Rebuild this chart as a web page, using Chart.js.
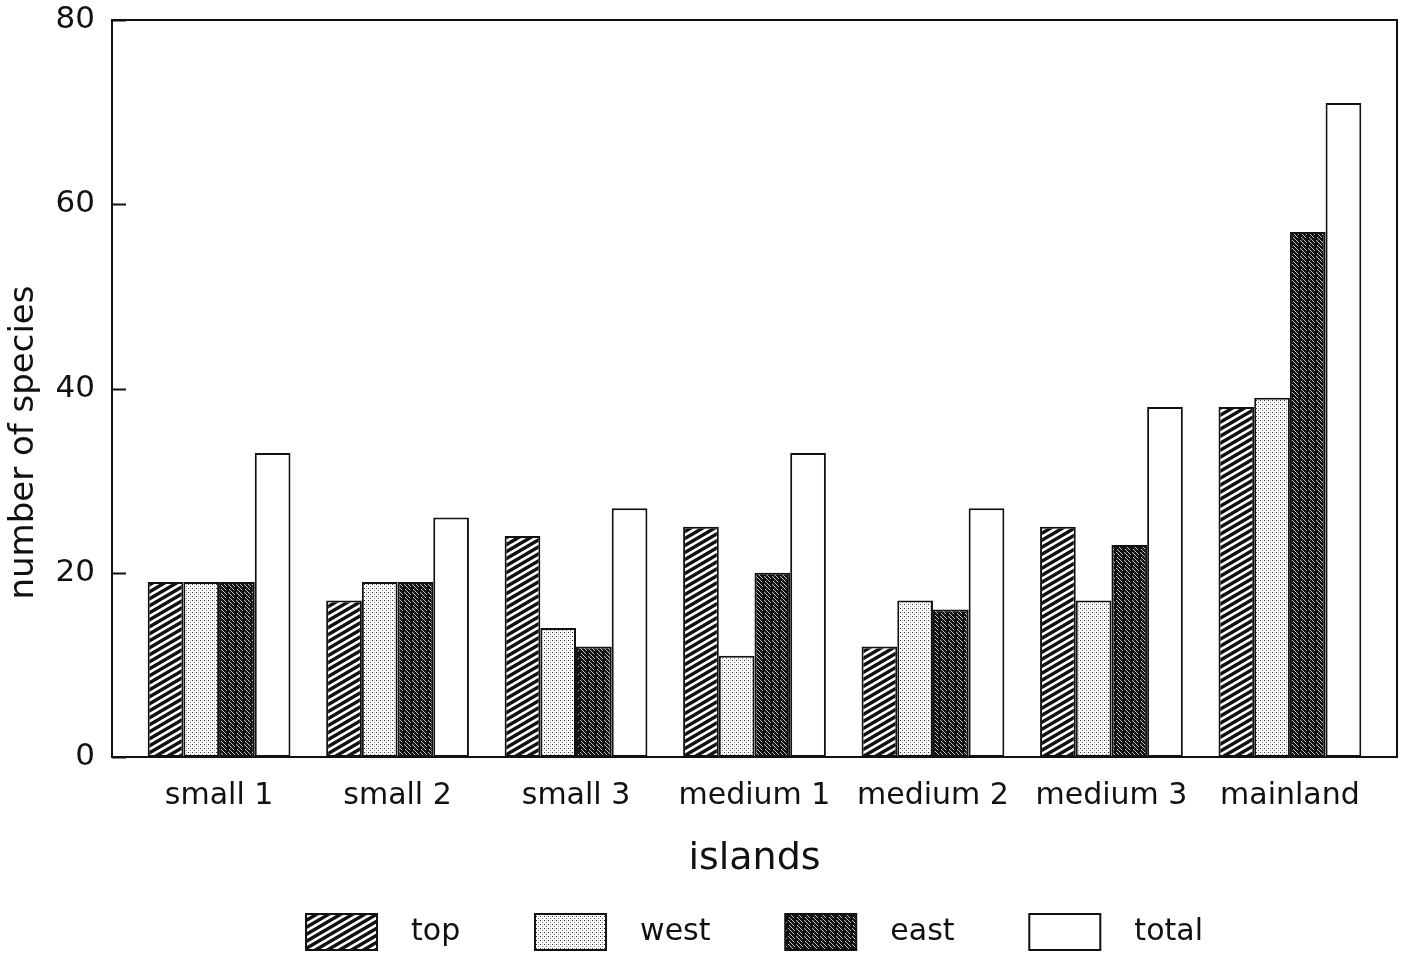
<!DOCTYPE html>
<html>
<head>
<meta charset="utf-8">
<script src="https://cdn.jsdelivr.net/npm/chart.js@4/dist/chart.umd.min.js"></script>
<style>
  html, body { margin: 0; padding: 0; background: #fff; }
  #wrap { width: 1413px; height: 960px; }
</style>
</head>
<body>
<div id="wrap"><canvas id="chart" width="1413" height="960"></canvas></div>
<script>
const islands = ["small 1", "small 2", "small 3", "medium 1", "medium 2", "medium 3", "mainland"];
const topVals = [19, 17, 24, 25, 12, 25, 38];
const westVals = [19, 19, 14, 11, 17, 17, 39];
const eastVals = [19, 19, 12, 20, 16, 23, 57];
const totalVals = [33, 26, 27, 33, 27, 38, 71];
const yTicks = [0, 20, 40, 60, 80];

const FONT = "'DejaVu Sans', sans-serif";

// fill patterns like the old printer hatching
function makeTile(w, h, draw) {
  const c = document.createElement("canvas");
  c.width = w; c.height = h;
  draw(c.getContext("2d"), w, h);
  return c.getContext("2d").createPattern(c, "repeat");
}
const ctx0 = document.getElementById("chart").getContext("2d");

const hatchTop = makeTile(12, 7, (g, w, h) => {
  g.fillStyle = "#fff"; g.fillRect(0, 0, w, h);
  g.strokeStyle = "#111"; g.lineWidth = 3.4;
  for (const dx of [-w, 0, w]) {
    g.beginPath();
    g.moveTo(dx - w, 2 * h);
    g.lineTo(dx + 2 * w, -h);
    g.stroke();
  }
});
const dotsWest = makeTile(4, 4, (g, w, h) => {
  g.fillStyle = "#fff"; g.fillRect(0, 0, w, h);
  g.fillStyle = "#333"; g.fillRect(0, 0, 1, 1);
  g.fillStyle = "#777"; g.fillRect(2, 2, 1, 1);
  g.fillStyle = "#ccc"; g.fillRect(2, 0, 1, 1);
});
const darkEast = makeTile(8, 8, (g, w, h) => {
  g.fillStyle = "#111"; g.fillRect(0, 0, w, h);
  g.strokeStyle = "rgba(255,255,255,0.75)"; g.lineWidth = 1;
  g.beginPath();
  g.moveTo(0, 0); g.lineTo(3, 3);
  g.moveTo(5, 5); g.lineTo(8, 8);
  g.moveTo(4, 0); g.lineTo(8, 4);
  g.moveTo(0, 4); g.lineTo(2, 6);
  g.stroke();
});

const toPoints = arr => arr.map((v, i) => ({ x: i, y: v }));

const frame = {
  id: "frame",
  afterDraw(chart) {
    const { ctx, chartArea: a, scales } = chart;
    ctx.save();
    ctx.strokeStyle = "#111";
    ctx.lineWidth = 2;
    ctx.strokeRect(a.left, a.top, a.right - a.left, a.bottom - a.top);
    ctx.beginPath();
    yTicks.forEach(t => {
      const y = Math.round(scales.y.getPixelForValue(t)) + 0.5;
      ctx.moveTo(a.left, y);
      ctx.lineTo(a.left + 14, y);
    });
    ctx.stroke();
    ctx.restore();
  }
};

const barStyle = { borderColor: "#111", borderWidth: 2, borderSkipped: false,
  categoryPercentage: 0.8, barPercentage: 1.0 };

new Chart(ctx0, {
  type: "bar",
  data: {
    datasets: [
      { label: "top", data: toPoints(topVals), backgroundColor: hatchTop, ...barStyle },
      { label: "west", data: toPoints(westVals), backgroundColor: dotsWest, ...barStyle },
      { label: "east", data: toPoints(eastVals), backgroundColor: darkEast, ...barStyle },
      { label: "total", data: toPoints(totalVals), backgroundColor: "#fff", ...barStyle },
    ],
  },
  plugins: [frame],
  options: {
    responsive: false,
    animation: false,
    layout: { padding: { top: 20, right: 16, left: 0, bottom: 0 } },
    plugins: {
      tooltip: { enabled: false },
      legend: {
        position: "bottom",
        fullSize: false,
        labels: {
          boxWidth: 71,
          boxHeight: 36,
          padding: 8,
          color: "#111",
          font: { family: FONT, size: 30 },
          generateLabels(chart) {
            const items = Chart.defaults.plugins.legend.labels.generateLabels(chart);
            items.forEach((it, i) => {
              it.text = "  " + it.text + (i < items.length - 1 ? "       " : "");
              it.lineWidth = 2;
            });
            return items;
          },
        },
      },
    },
    scales: {
      x: {
        type: "linear",
        min: -0.6,
        max: 6.6,
        offset: false,
        grid: { display: false, drawTicks: false },
        border: { display: false },
        afterBuildTicks(s) { s.ticks = islands.map((c, i) => ({ value: i })); },
        afterFit(s) { s.height = 149; },
        ticks: {
          padding: 21,
          autoSkip: false,
          maxRotation: 0,
          color: "#111",
          font: { family: FONT, size: 30 },
          callback: v => islands[v],
        },
        title: {
          display: true,
          text: "islands",
          color: "#111",
          font: { family: FONT, size: 38 },
          padding: { top: 6, bottom: 24 },
        },
      },
      y: {
        min: 0,
        max: 80,
        grid: { display: false, drawTicks: false },
        border: { display: false },
        afterFit(s) { s.width = 112; s.paddingTop = 0; s.paddingBottom = 0; },
        ticks: {
          stepSize: 20,
          padding: 17,
          color: "#111",
          font: { family: FONT, size: 31 },
        },
        title: {
          display: true,
          text: "number of species          ",
          color: "#111",
          font: { family: FONT, size: 34 },
          padding: { top: 4, bottom: 4 },
        },
      },
    },
  },
});
</script>
</body>
</html>
